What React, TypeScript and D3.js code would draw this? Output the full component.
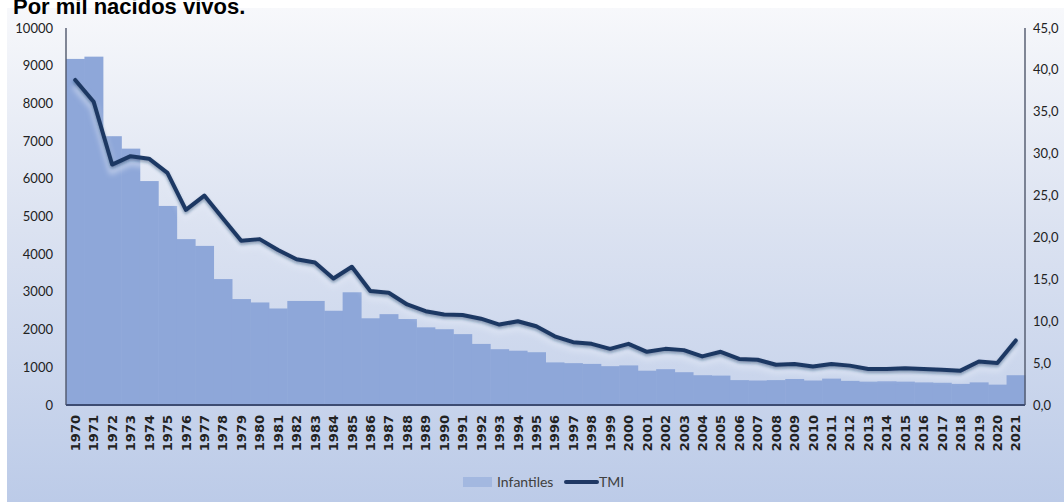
import React from "react";
import * as d3 from "d3";

const years: string[] = [
  "1970","1971","1972","1973","1974","1975","1976","1977","1978","1979",
  "1980","1981","1982","1983","1984","1985","1986","1987","1988","1989",
  "1990","1991","1992","1993","1994","1995","1996","1997","1998","1999",
  "2000","2001","2002","2003","2004","2005","2006","2007","2008","2009",
  "2010","2011","2012","2013","2014","2015","2016","2017","2018","2019",
  "2020","2021",
];

const infantiles: number[] = [
  9180, 9240, 7130, 6800, 5940, 5280, 4400, 4220, 3340, 2810,
  2720, 2560, 2760, 2760, 2500, 2990, 2300, 2410, 2280, 2060,
  2010, 1880, 1620, 1480, 1440, 1400, 1130, 1110, 1090, 1030,
  1050, 910, 950, 870, 790, 780, 660, 650, 660, 690,
  650, 700, 640, 620, 630, 620, 600, 590, 560, 600,
  540, 790,
];

const tmi: number[] = [
  38.8, 36.2, 28.7, 29.7, 29.4, 27.7, 23.3, 25.0, 22.3, 19.6,
  19.8, 18.5, 17.4, 17.0, 15.1, 16.5, 13.6, 13.4, 12.0, 11.2,
  10.8, 10.75, 10.3, 9.6, 10.0, 9.4, 8.2, 7.5, 7.3, 6.7,
  7.3, 6.35, 6.7, 6.55, 5.8, 6.35, 5.5, 5.4, 4.8, 4.9,
  4.6, 4.9, 4.7, 4.3, 4.3, 4.4, 4.3, 4.2, 4.1, 5.2,
  5.0, 7.7,
];

const leftTicks: number[] = [0, 1000, 2000, 3000, 4000, 5000, 6000, 7000, 8000, 9000, 10000];
const rightTicks: number[] = [0, 5, 10, 15, 20, 25, 30, 35, 40, 45];

const title = "Por mil nacidos vivos.";
const seriesNames = ["Infantiles", "TMI"];

export default function App() {
  const W = 1064, H = 502;
  const plotL = 66, plotR = 1025, plotT = 28, plotB = 405;

  const x = d3.scaleBand<string>().domain(years).range([plotL, plotR]).paddingInner(0).paddingOuter(0);
  const yL = d3.scaleLinear().domain([0, 10000]).range([plotB, plotT]);
  const yR = d3.scaleLinear().domain([0, 45]).range([plotB, plotT]);

  const line = d3
    .line<number>()
    .x((_, i) => (x(years[i]) as number) + x.bandwidth() / 2)
    .y((d) => yR(d));
  const linePath = line(tmi) || "";

  const tickFont = "Lato, 'Open Sans', sans-serif";
  const barColor = "#8ea7d9";
  const lineColor = "#1f3864";

  return (
    <svg
      width={W}
      height={H}
      viewBox={`0 0 ${W} ${H}`}
      style={{ position: "absolute", left: 0, top: 0 }}
    >
      <defs>
        <linearGradient id="bg" x1="0" y1="0" x2="0" y2="1">
          <stop offset="0%" stopColor="#f7f8fb" />
          <stop offset="45%" stopColor="#dbe2f1" />
          <stop offset="100%" stopColor="#bccbe8" />
        </linearGradient>
        <filter id="glow" x="-5%" y="-20%" width="110%" height="140%">
          <feGaussianBlur stdDeviation="2.5" />
        </filter>
        <filter id="shadow" x="-5%" y="-20%" width="110%" height="140%">
          <feDropShadow dx="0" dy="2" stdDeviation="1.5" floodColor="#1f3864" floodOpacity="0.45" />
        </filter>
      </defs>

      <rect x={0} y={0} width={W} height={H} fill="#ffffff" />
      <rect x={7} y={8} width={W - 7} height={H - 8} fill="url(#bg)" />

      <text
        x={13}
        y={14}
        fontFamily="'Liberation Sans', Arial, sans-serif"
        fontWeight="bold"
        fontSize={22}
        fill="#000"
      >
        {title}
      </text>

      {/* bars */}
      <g>
        {infantiles.map((v, i) => (
          <rect
            key={years[i]}
            x={x(years[i]) as number}
            y={yL(v)}
            width={x.bandwidth() + 0.5}
            height={plotB - yL(v)}
            fill={barColor}
          />
        ))}
      </g>

      {/* line glow */}
      <path
        d={linePath}
        fill="none"
        stroke="#e2e8f6"
        strokeWidth={8}
        strokeOpacity={0.45}
        strokeLinejoin="round"
        transform="translate(0,6)"
        filter="url(#glow)"
      />
      <path
        d={linePath}
        fill="none"
        stroke={lineColor}
        strokeWidth={4}
        strokeLinejoin="round"
        strokeLinecap="round"
        filter="url(#shadow)"
      />

      {/* axes */}
      <line x1={plotL} x2={plotL} y1={plotT} y2={plotB} stroke="#4f576b" strokeWidth={1.4} />
      <line x1={plotR} x2={plotR} y1={plotT} y2={plotB} stroke="#4f576b" strokeWidth={1.4} />
      <line x1={plotL} x2={plotR} y1={plotB} y2={plotB} stroke="#3d4c72" strokeWidth={2} />

      {leftTicks.map((t) => (
        <text
          key={"l" + t}
          x={53}
          y={yL(t)}
          dy="0.35em"
          textAnchor="end"
          fontFamily={tickFont}
          fontSize={13}
          fill="#222"
        >
          {t}
        </text>
      ))}

      {rightTicks.map((t) => (
        <text
          key={"r" + t}
          x={1033}
          y={yR(t)}
          dy="0.35em"
          textAnchor="start"
          fontFamily={tickFont}
          fontSize={13}
          fill="#222"
        >
          {t.toFixed(1).replace(".", ",")}
        </text>
      ))}

      {years.map((yr) => {
        const cx = (x(yr) as number) + x.bandwidth() / 2;
        return (
          <text
            key={"x" + yr}
            transform={`translate(${cx},${415}) rotate(-90)`}
            dy="0.36em"
            textAnchor="end"
            fontFamily="'DejaVu Sans', sans-serif"
            fontWeight="bold"
            fontSize={13}
            fill="#222"
          >
            {yr}
          </text>
        );
      })}

      {/* legend */}
      <rect x={463} y={477} width={29} height={10} fill="#a3b8e0" />
      <text x={497} y={482} dy="0.35em" fontFamily={tickFont} fontSize={14} fill="#404040">
        {seriesNames[0]}
      </text>
      <line x1={566} x2={597} y1={482} y2={482} stroke={lineColor} strokeWidth={4} strokeLinecap="round" />
      <text x={599} y={482} dy="0.35em" fontFamily={tickFont} fontSize={14} fill="#404040">
        {seriesNames[1]}
      </text>
    </svg>
  );
}
